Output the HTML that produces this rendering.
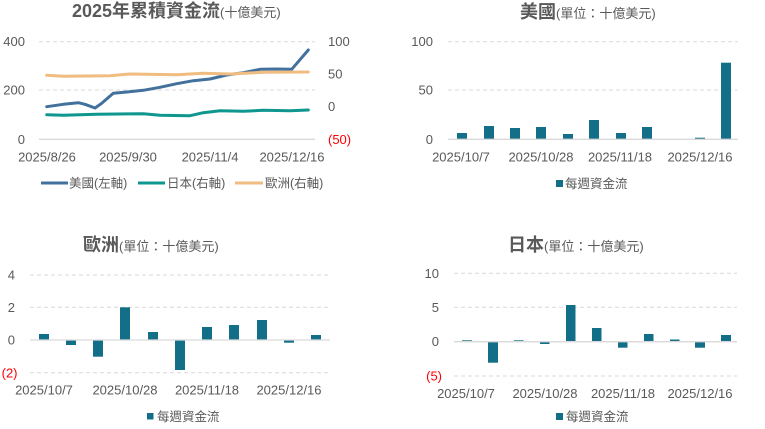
<!DOCTYPE html>
<html><head><meta charset="utf-8"><style>
html,body{margin:0;padding:0;background:#fff;}
svg{display:block;}
text{font-family:"Liberation Sans","Noto Sans CJK TC",sans-serif;fill:#595959;}
.t{font-size:13px;}
.ttl{font-size:18px;font-weight:700;}
.sub{font-size:13px;font-weight:400;}
.lg{font-size:12.5px;}
.red{fill:#ff0000;}
.g{stroke:#d9d9d9;stroke-width:1;stroke-dasharray:4,3;}
.ax{stroke:#d9d9d9;stroke-width:1.3;}
.b{fill:#136f87;}
</style></head><body>
<svg width="765" height="429" viewBox="0 0 765 429" xmlns="http://www.w3.org/2000/svg">
<rect width="765" height="429" fill="#fff"/>

<!-- Chart 1 -->
<text x="72" y="17"><tspan class="ttl">2025年累積資金流</tspan><tspan class="sub">(十億美元)</tspan></text>
<line class="g" x1="39" y1="41.7" x2="315" y2="41.7"/>
<line class="g" x1="39" y1="90" x2="315" y2="90"/>
<line class="ax" x1="39" y1="139.3" x2="315" y2="139.3"/>
<text class="t" x="25" y="46.2" text-anchor="end">400</text>
<text class="t" x="25" y="94.5" text-anchor="end">200</text>
<text class="t" x="25" y="143.8" text-anchor="end">0</text>
<text class="t" x="328" y="46.2">100</text>
<text class="t" x="328" y="78.7">50</text>
<text class="t" x="328" y="111.2">0</text>
<text class="t red" x="328" y="143.8">(50)</text>
<text class="t" x="47" y="161.5" text-anchor="middle">2025/8/26</text>
<text class="t" x="128" y="161.5" text-anchor="middle">2025/9/30</text>
<text class="t" x="210" y="161.5" text-anchor="middle">2025/11/4</text>
<text class="t" x="292" y="161.5" text-anchor="middle">2025/12/16</text>
<polyline fill="none" stroke="#41719c" stroke-width="3" stroke-linejoin="round" stroke-linecap="round"
 points="46.7,106.7 63.3,104.3 78.3,102.7 85,104.3 95,108 101.7,103.3 113.3,93.3 126.7,92 143.3,90.3 160,87.3 176.7,83.7 193.3,80.7 210,79 226.7,75 243.3,72.7 260,69.3 276.7,69 291.7,69.3 308.3,50"/>
<polyline fill="none" stroke="#0e968f" stroke-width="3" stroke-linejoin="round" stroke-linecap="round"
 points="46.7,114.7 63.3,115.3 96.7,114.3 143.3,113.7 160,115.3 190,115.7 203.3,112.7 220,110.7 243.3,111.3 263.3,110.3 290,110.7 308.3,110"/>
<polyline fill="none" stroke="#f0bc80" stroke-width="3" stroke-linejoin="round" stroke-linecap="round"
 points="46.7,75.3 63.3,76.3 110,75.7 130,74 176.7,74.7 203.3,73.3 230,74 263.3,72.3 308.3,72"/>
<line x1="41" y1="183" x2="68" y2="183" stroke="#41719c" stroke-width="3"/>
<text class="lg" x="69" y="187.5">美國(左軸)</text>
<line x1="138" y1="183" x2="165" y2="183" stroke="#0e968f" stroke-width="3"/>
<text class="lg" x="167" y="187.5">日本(右軸)</text>
<line x1="235" y1="183" x2="263" y2="183" stroke="#f0bc80" stroke-width="3"/>
<text class="lg" x="265" y="187.5">歐洲(右軸)</text>

<!-- Chart 2 -->
<text x="520" y="18"><tspan class="ttl">美國</tspan><tspan class="sub">(單位：十億美元)</tspan></text>
<line class="g" x1="448" y1="41.7" x2="738" y2="41.7"/>
<line class="g" x1="448" y1="90" x2="738" y2="90"/>
<text class="t" x="433" y="46.2" text-anchor="end">100</text>
<text class="t" x="433" y="94.5" text-anchor="end">50</text>
<text class="t" x="433" y="143.8" text-anchor="end">0</text>
<rect class="b" x="457" y="133" width="10" height="6.3"/>
<rect class="b" x="484" y="126" width="10" height="13.3"/>
<rect class="b" x="510" y="128" width="10" height="11.3"/>
<rect class="b" x="536" y="127" width="10" height="12.3"/>
<rect class="b" x="563" y="134" width="10" height="5.3"/>
<rect class="b" x="589" y="120" width="10" height="19.3"/>
<rect class="b" x="616" y="133" width="10" height="6.3"/>
<rect class="b" x="642" y="127" width="10" height="12.3"/>
<rect class="b" x="695" y="137.7" width="10" height="1.6"/>
<rect class="b" x="721" y="62.7" width="10" height="76.6"/>
<line class="ax" x1="448" y1="139.3" x2="738" y2="139.3"/>
<text class="t" x="461" y="161.5" text-anchor="middle">2025/10/7</text>
<text class="t" x="541" y="161.5" text-anchor="middle">2025/10/28</text>
<text class="t" x="620" y="161.5" text-anchor="middle">2025/11/18</text>
<text class="t" x="700" y="161.5" text-anchor="middle">2025/12/16</text>
<rect class="b" x="556" y="180" width="7" height="7"/>
<text class="lg" x="565" y="188">每週資金流</text>

<!-- Chart 3 -->
<text x="83" y="251"><tspan class="ttl">歐洲</tspan><tspan class="sub">(單位：十億美元)</tspan></text>
<line class="g" x1="30" y1="275" x2="330" y2="275"/>
<line class="g" x1="30" y1="307.3" x2="330" y2="307.3"/>
<line class="g" x1="30" y1="372.7" x2="330" y2="372.7"/>
<text class="t" x="15" y="279.5" text-anchor="end">4</text>
<text class="t" x="15" y="311.8" text-anchor="end">2</text>
<text class="t" x="15" y="344.5" text-anchor="end">0</text>
<text class="t red" x="17.5" y="377.5" text-anchor="end">(2)</text>
<rect class="b" x="39" y="334" width="10" height="6"/>
<rect class="b" x="66" y="340" width="10" height="5"/>
<rect class="b" x="93" y="340" width="10" height="16.7"/>
<rect class="b" x="120" y="307.3" width="10" height="32.7"/>
<rect class="b" x="148" y="332" width="10" height="8"/>
<rect class="b" x="175" y="340" width="10" height="30"/>
<rect class="b" x="202" y="327" width="10" height="13"/>
<rect class="b" x="229" y="325" width="10" height="15"/>
<rect class="b" x="257" y="320" width="10" height="20"/>
<rect class="b" x="284" y="340" width="10" height="2.7"/>
<rect class="b" x="311" y="335" width="10" height="5"/>
<line class="ax" x1="30" y1="340" x2="330" y2="340"/>
<text class="t" x="44" y="394.5" text-anchor="middle">2025/10/7</text>
<text class="t" x="125" y="394.5" text-anchor="middle">2025/10/28</text>
<text class="t" x="207" y="394.5" text-anchor="middle">2025/11/18</text>
<text class="t" x="289" y="394.5" text-anchor="middle">2025/12/16</text>
<rect class="b" x="147" y="413" width="6.5" height="6.5"/>
<text class="lg" x="157" y="421">每週資金流</text>

<!-- Chart 4 -->
<text x="508" y="251"><tspan class="ttl">日本</tspan><tspan class="sub">(單位：十億美元)</tspan></text>
<line class="g" x1="454" y1="273.3" x2="737" y2="273.3"/>
<line class="g" x1="454" y1="307.3" x2="737" y2="307.3"/>
<line class="g" x1="454" y1="376" x2="737" y2="376"/>
<text class="t" x="439" y="277.8" text-anchor="end">10</text>
<text class="t" x="439" y="311.8" text-anchor="end">5</text>
<text class="t" x="439" y="346.2" text-anchor="end">0</text>
<text class="t red" x="442" y="380.5" text-anchor="end">(5)</text>
<rect class="b" x="462" y="340.3" width="10" height="1.4"/>
<rect class="b" x="488" y="341.7" width="10" height="21"/>
<rect class="b" x="514" y="340.3" width="9.5" height="1.4"/>
<rect class="b" x="540" y="341.7" width="9.5" height="2.3"/>
<rect class="b" x="566" y="305" width="9.5" height="36.7"/>
<rect class="b" x="592" y="328" width="9.5" height="13.7"/>
<rect class="b" x="618" y="341.7" width="9.5" height="6"/>
<rect class="b" x="644" y="334" width="9.5" height="7.7"/>
<rect class="b" x="670" y="339.5" width="9.5" height="2.2"/>
<rect class="b" x="695" y="341.7" width="10" height="6"/>
<rect class="b" x="721" y="335" width="10" height="6.7"/>
<line class="ax" x1="454" y1="341.7" x2="737" y2="341.7"/>
<text class="t" x="466" y="397.8" text-anchor="middle">2025/10/7</text>
<text class="t" x="545" y="397.8" text-anchor="middle">2025/10/28</text>
<text class="t" x="623" y="397.8" text-anchor="middle">2025/11/18</text>
<text class="t" x="700" y="397.8" text-anchor="middle">2025/12/16</text>
<rect class="b" x="556" y="413" width="7" height="7"/>
<text class="lg" x="566" y="421">每週資金流</text>
</svg>
</body></html>
